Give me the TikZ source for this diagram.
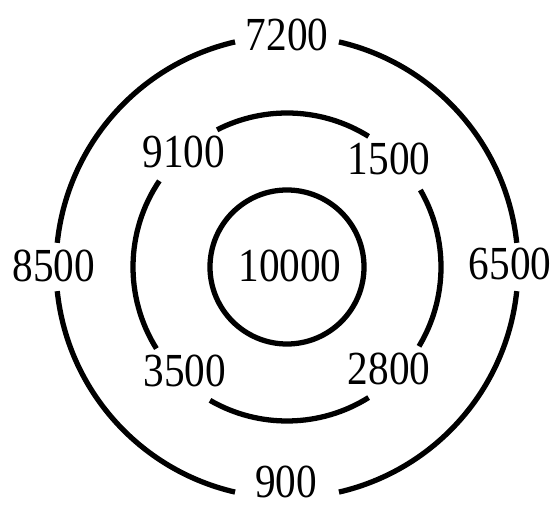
\documentclass[tikz,border=0pt]{standalone}
\usepackage{fontspec}
\setmainfont{Liberation Serif}[FakeStretch=0.87]

\begin{document}
\begin{tikzpicture}[x=0.02cm, y=0.02cm, line width=3pt,
    font=\fontsize{27}{30}\selectfont,
    lbl/.style={inner sep=0pt}]
  \useasboundingbox (-287,-239) rectangle (270,267);

  % Inner circle
  \draw (0,0) circle[radius=77];
  \node[lbl] (core) at (3,1) {10000};

  % Middle ring, four arcs
  \foreach \a/\b in {-31/30, 58/117, 146/212, 240/302} {
    \draw (\a:154) arc (\a:\b:154);
  }
  \node[lbl] (midNE) at (102,108) {1500};
  \node[lbl] (midNW) at (-103,115) {9100};
  \node[lbl] (midSW) at (-102,-104) {3500};
  \node[lbl] (midSE) at (102,-102) {2800};

  % Outer ring, four arcs
  \foreach \a/\b in {6/77, 103/174, 186/257, 283/354} {
    \draw (\a:231) arc (\a:\b:231);
  }
  \node[lbl] (outN) at (0,232) {7200};
  \node[lbl] (outW) at (-233,1) {8500};
  \node[lbl] (outE) at (223,3) {6500};
  \node[lbl] (outS) at (-1,-215) {900};

\end{tikzpicture}
\end{document}
